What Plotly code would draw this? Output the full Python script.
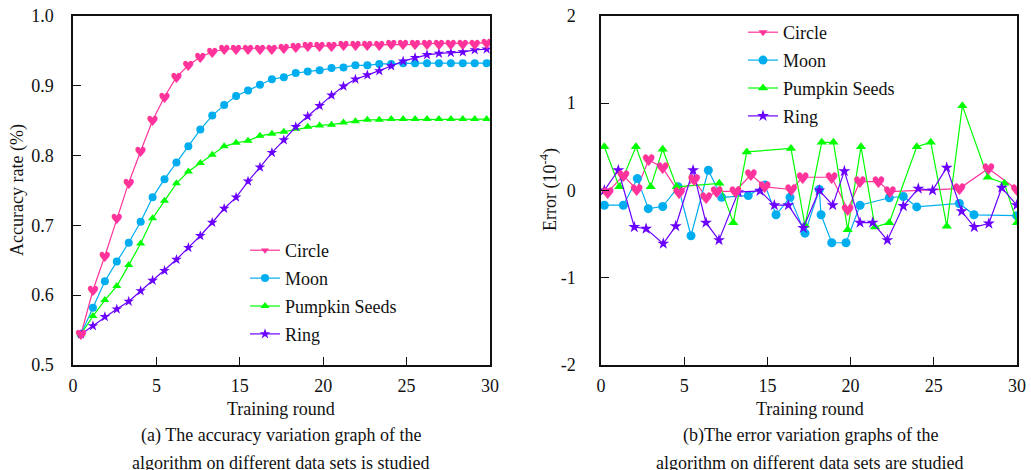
import plotly.graph_objects as go
import numpy as np

# ---------------- data ----------------
rounds = list(range(1, 36))
x_tick_text = ["0", "5", "15", "20", "25", "30"]
y2_tick_text = ["-2", "-1", "0", "1", "2"]

acc_circle = [0.544, 0.607, 0.656, 0.710, 0.761, 0.806, 0.850, 0.884, 0.912, 0.929,
              0.941, 0.948, 0.952, 0.953, 0.953, 0.953, 0.953, 0.954, 0.955, 0.956,
              0.957, 0.957, 0.958, 0.958, 0.958, 0.958, 0.959, 0.959, 0.959, 0.960,
              0.960, 0.960, 0.960, 0.960, 0.961]
acc_moon = [0.544, 0.582, 0.620, 0.648, 0.675, 0.705, 0.740, 0.766, 0.790, 0.813,
            0.837, 0.857, 0.872, 0.885, 0.893, 0.901, 0.909, 0.912, 0.918, 0.920,
            0.922, 0.925, 0.926, 0.929, 0.929, 0.931, 0.931, 0.932, 0.932, 0.932,
            0.932, 0.932, 0.932, 0.932, 0.932]
acc_pumpkin = [0.544, 0.570, 0.593, 0.613, 0.643, 0.674, 0.710, 0.735, 0.760, 0.777,
               0.789, 0.801, 0.813, 0.818, 0.821, 0.828, 0.831, 0.834, 0.838, 0.841,
               0.843, 0.844, 0.847, 0.849, 0.851, 0.851, 0.852, 0.852, 0.852, 0.852,
               0.852, 0.852, 0.852, 0.852, 0.852]
acc_ring = [0.544, 0.556, 0.569, 0.580, 0.591, 0.606, 0.621, 0.635, 0.651, 0.668,
            0.685, 0.704, 0.724, 0.740, 0.763, 0.783, 0.804, 0.822, 0.841, 0.856,
            0.871, 0.886, 0.899, 0.909, 0.915, 0.921, 0.928, 0.935, 0.940, 0.944,
            0.946, 0.947, 0.948, 0.951, 0.952]

err_circle_x = [0.48, 1.61, 2.57, 3.44, 4.44, 5.63, 6.72, 7.59, 8.34, 9.70, 10.82,
                11.81, 13.72, 14.55, 16.64, 17.79, 18.68, 20.00, 20.84, 25.84, 27.93, 30.0]
err_circle_y = [-0.02, 0.17, 0.01, 0.35, 0.26, -0.03, 0.12, -0.085, -0.015, -0.01, 0.18,
                0.04, 0.01, 0.15, 0.15, -0.22, 0.10, 0.10, -0.015, 0.02, 0.25, 0.01]

err_moon_x = [0.24, 1.61, 2.62, 3.41, 4.45, 5.57, 6.49, 7.74, 8.70, 10.62, 11.83, 12.62,
              13.63, 14.71, 15.74, 15.87, 16.64, 17.67, 18.68, 20.79, 21.80, 22.77,
              25.84, 26.90, 29.98]
err_moon_y = [-0.17, -0.17, 0.135, -0.21, -0.185, 0.04, -0.52, 0.23, -0.08, -0.06, 0.06,
              -0.28, -0.08, -0.49, 0.01, -0.28, -0.60, -0.60, -0.17, -0.085, -0.07,
              -0.19, -0.15, -0.28, -0.29]

err_pumpkin_x = [0.24, 1.32, 2.52, 3.58, 4.45, 5.46, 8.53, 9.54, 10.51, 13.70, 14.71,
                 15.92, 16.76, 17.79, 18.75, 19.76, 20.79, 22.77, 23.78, 24.94, 26.06,
                 27.89, 29.09, 30.0]
err_pumpkin_y = [0.50, 0.04, 0.50, 0.04, 0.47, 0.04, 0.08, -0.37, 0.44, 0.48, -0.40,
                 0.55, 0.55, -0.45, 0.50, -0.42, -0.37, 0.50, 0.55, -0.41, 0.97, 0.15,
                 0.08, -0.37]

err_ring_x = [0.24, 1.25, 2.40, 3.25, 4.49, 5.39, 6.64, 7.57, 8.51, 9.90, 11.47, 12.50,
              13.51, 14.59, 15.74, 16.71, 17.55, 18.68, 19.59, 20.65, 21.80, 22.88,
              23.91, 24.93, 26.01, 26.92, 27.97, 28.90, 29.98]
err_ring_y = [0.0, 0.23, -0.42, -0.44, -0.61, -0.41, 0.23, -0.37, -0.57, -0.02, -0.005,
              -0.17, -0.17, -0.43, 0.0, -0.17, 0.22, -0.37, -0.37, -0.57, -0.18, 0.02,
              0.0, 0.26, -0.24, -0.42, -0.38, 0.03, -0.17]

names = ["Circle", "Moon", "Pumpkin Seeds", "Ring"]
colors = ["#ff3399", "#00aeef", "#00ff00", "#6a00ff"]
symbols = ["triangle-down", "circle", "triangle-up", "star"]

FONT = "Liberation Serif, Times New Roman, serif"
W, H = 1031, 470


def px_x(p):
    return p / W


def px_y(p):
    return 1 - p / H


# axis geometry (window pixels -> paper fractions)
L_X0, L_X1 = px_x(73), px_x(490)
R_X0, R_X1 = px_x(601), px_x(1017)
Y_TOP_PX, Y_BOT_PX = 15.7, 365
Y0, Y1 = px_y(Y_BOT_PX), px_y(Y_TOP_PX)
PLOT_H_PX = Y_BOT_PX - Y_TOP_PX

l_range = [0.33, 35.28]
r_range = [0, 30]
y_range = [0.5, 1.0]
y2_range = [-2, 2]

# heart glyph overlay axes, nudged a couple of pixels so glyph centres sit on points
HEART_SHIFT_PX = 2.5
y3_shift = HEART_SHIFT_PX * (y_range[1] - y_range[0]) / PLOT_H_PX
y4_shift = HEART_SHIFT_PX * (y2_range[1] - y2_range[0]) / PLOT_H_PX

fig = go.Figure()

acc_sets = [acc_circle, acc_moon, acc_pumpkin, acc_ring]
err_sets = [(err_circle_x, err_circle_y), (err_moon_x, err_moon_y),
            (err_pumpkin_x, err_pumpkin_y), (err_ring_x, err_ring_y)]

for i, name in enumerate(names):
    msize = [7, 8, 8, 8][i]
    fig.add_trace(go.Scatter(
        x=rounds, y=acc_sets[i], mode="lines+markers", name=name,
        line=dict(color=colors[i], width=1.2),
        marker=dict(symbol=symbols[i], size=msize, color=colors[i], line=dict(width=0)),
        xaxis="x", yaxis="y", legend="legend", legendgroup="a" + name))
    if i == 0:
        fig.add_trace(go.Scatter(
            x=rounds, y=acc_sets[i], mode="text", text=["\u2665"] * len(rounds),
            textposition="middle center",
            textfont=dict(color=colors[i], size=14, family="DejaVu Sans"),
            showlegend=False, xaxis="x", yaxis="y3", hoverinfo="skip"))

for i, name in enumerate(names):
    ex, ey = err_sets[i]
    msize = [8, 9, 9, 9][i]
    fig.add_trace(go.Scatter(
        x=ex, y=ey, mode="lines+markers", name=name,
        line=dict(color=colors[i], width=1.2),
        marker=dict(symbol=symbols[i], size=msize, color=colors[i], line=dict(width=0)),
        xaxis="x2", yaxis="y2", legend="legend2", legendgroup="b" + name))
    if i == 0:
        fig.add_trace(go.Scatter(
            x=ex, y=ey, mode="text", text=["\u2665"] * len(ex),
            textposition="middle center",
            textfont=dict(color=colors[i], size=16, family="DejaVu Sans"),
            showlegend=False, xaxis="x2", yaxis="y4", hoverinfo="skip"))

axis_common = dict(showgrid=False, zeroline=False, showline=True, mirror=True,
                   linecolor="#111", linewidth=1.5, ticks="inside", ticklen=8,
                   tickcolor="#111", tickwidth=1.2, automargin=False,
                   tickfont=dict(family=FONT, size=18, color="#111"))

fig.update_layout(
    width=W, height=H, margin=dict(l=0, r=0, t=0, b=0, autoexpand=False),
    paper_bgcolor="white", plot_bgcolor="white",
    font=dict(family=FONT, size=18, color="#111"),
    xaxis=dict(domain=[L_X0, L_X1], range=l_range,
               tickvals=list(np.linspace(l_range[0], l_range[1], 6)),
               ticktext=x_tick_text, anchor="y", ticklabelstandoff=4, **axis_common),
    yaxis=dict(domain=[Y0, Y1], range=y_range, tickvals=[0.5, 0.6, 0.7, 0.8, 0.9, 1.0],
               tickformat=".1f", anchor="x", ticklabelstandoff=14, **axis_common),
    yaxis3=dict(overlaying="y", range=[y_range[0] + y3_shift, y_range[1] + y3_shift],
                visible=False, anchor="x"),
    xaxis2=dict(domain=[R_X0, R_X1], range=r_range,
                tickvals=list(np.linspace(r_range[0], r_range[1], 6)),
                ticktext=x_tick_text, anchor="y2", ticklabelstandoff=4, **axis_common),
    yaxis2=dict(domain=[Y0, Y1], range=y2_range, tickvals=[-2, -1, 0, 1, 2],
                ticktext=y2_tick_text, anchor="x2", ticklabelstandoff=20, **axis_common),
    yaxis4=dict(overlaying="y2", range=[y2_range[0] + y4_shift, y2_range[1] + y4_shift],
                visible=False, anchor="x2"),
    legend=dict(x=px_x(245), y=px_y(232), xanchor="left", yanchor="top",
                bgcolor="rgba(0,0,0,0)", font=dict(family=FONT, size=18),
                itemwidth=30, tracegroupgap=1.5),
    legend2=dict(x=px_x(743), y=px_y(14), xanchor="left", yanchor="top",
                 bgcolor="rgba(0,0,0,0)", font=dict(family=FONT, size=18),
                 itemwidth=30, tracegroupgap=1.5),
    showlegend=True,
)

ann = [
    dict(text="Accuracy rate (%)", x=px_x(17), y=px_y(190), textangle=-90),
    dict(text="Error (10<sup>-4</sup>)", x=px_x(549), y=px_y(190), textangle=-90),
    dict(text="Training round", x=px_x(281), y=px_y(409)),
    dict(text="Training round", x=px_x(810), y=px_y(409)),
    dict(text="(a) The accuracy variation graph of the", x=px_x(281), y=px_y(435)),
    dict(text="algorithm on different data sets is studied", x=px_x(281), y=px_y(463)),
    dict(text="(b)The error variation graphs of the", x=px_x(810), y=px_y(435)),
    dict(text="algorithm on different data sets are studied", x=px_x(810), y=px_y(463)),
]
for a in ann:
    fig.add_annotation(xref="paper", yref="paper", showarrow=False,
                       xanchor="center", yanchor="middle",
                       font=dict(family=FONT, size=18, color="#111"), **a)

# remove the page's default 8px body margin so the figure fills the window exactly
fig.write_html("out.html", config={"displayModeBar": False},
               post_script="document.body.style.margin='0';document.body.style.overflow='hidden';")
